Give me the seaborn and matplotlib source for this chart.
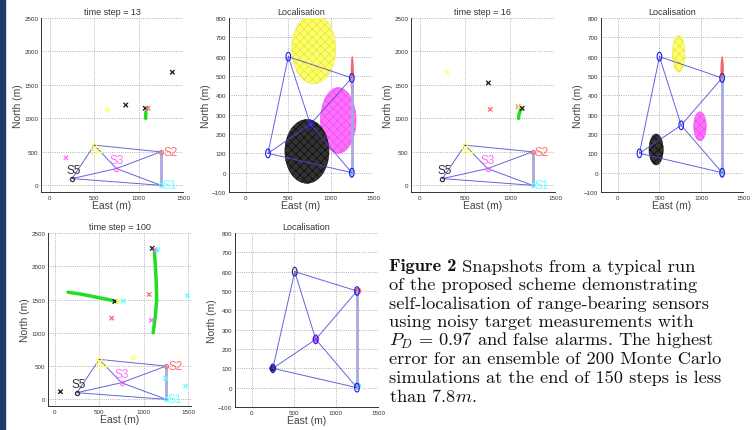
import matplotlib
matplotlib.use("Agg")
import matplotlib.pyplot as plt
from matplotlib.patches import Ellipse, Rectangle
import pandas as pd
import seaborn as sns

# Sensors
sensor_names = ["S1", "S2", "S3", "S4", "S5"]
sensor_east = [1250, 1250, 750, 500, 250]
sensor_north = [0, 500, 250, 600, 100]
label_east = [1270, 1275, 670, 450, 190]
label_north = [5, 505, 385, 515, 235]
sensor_colors = ["#66ffff", "#ff7070", "#ff70ff", "#ffff66", "#333333"]
cloud_hatch = ["#33dddd", "#ee5555", "#ee55ee", "#e6e655", "#111111"]
# links between sensors (index pairs)
edges = [(3, 1), (3, 4), (3, 2), (2, 0), (4, 2), (2, 1), (1, 0), (4, 0)]

# Time step panels: measurements (x marks) and target tracks
meas13_east = [1380, 855, 1075, 1105, 650, 180]
meas13_north = [1690, 1200, 1150, 1150, 1120, 410]
meas13_sensor = ["S5", "S5", "S5", "S2", "S4", "S3"]
track13 = [([1080, 1080, 1082], [1000, 1050, 1095])]

meas16_east = [300, 760, 780, 1090, 1105, 1135]
meas16_north = [1680, 1530, 1135, 1175, 1170, 1150]
meas16_sensor = ["S4", "S5", "S2", "S2", "S4", "S5"]
track16 = [([1095, 1098, 1105, 1115, 1125], [1000, 1040, 1080, 1120, 1150])]

meas100_east = [1095, 1130, 1160, 675, 712, 770, 1060, 640, 1085, 1490, 885, 1245, 1470, 65]
meas100_north = [2270, 2245, 2250, 1470, 1470, 1478, 1577, 1220, 1188, 1560, 625, 315, 200, 115]
meas100_sensor = ["S5", "S3", "S1", "S5", "S4", "S1", "S2", "S2", "S3", "S1", "S4", "S1", "S1", "S5"]
track100 = [([1118, 1130, 1140, 1145, 1130, 1105], [2250, 2000, 1750, 1500, 1250, 1000]),
            ([150, 300, 450, 600, 700], [1610, 1580, 1540, 1500, 1470])]

# Localisation panels: estimated sensor positions and particle cloud extents (S1..S5)
est13_east = [1250, 1250, 760, 500, 260]
est13_north = [0, 490, 250, 600, 100]
cloud13_east = [1250, 1255, 1090, 800, 720]
cloud13_north = [0, 490, 270, 640, 110]
cloud13_w = [30, 30, 420, 520, 520]
cloud13_h = [50, 220, 340, 360, 330]

est16_east = [1250, 1250, 760, 500, 260]
est16_north = [0, 490, 245, 600, 100]
cloud16_east = [1250, 1250, 985, 730, 460]
cloud16_north = [0, 535, 240, 615, 120]
cloud16_w = [30, 30, 150, 150, 170]
cloud16_h = [50, 130, 150, 190, 160]

est100_east = [1250, 1250, 760, 510, 250]
est100_north = [0, 500, 250, 600, 100]
cloud100_east = [1255, 1260, 760, 515, 250]
cloud100_north = [10, 500, 250, 595, 100]
cloud100_w = [75, 75, 75, 75, 75]
cloud100_h = [32, 32, 32, 32, 32]

caption_head = "Figure 2"
caption_lines = [
    " Snapshots from a typical run",
    "of the proposed scheme demonstrating",
    "self-localisation of range-bearing sensors",
    "using noisy target measurements with",
    r"$P_D\,=\,0.97$ and false alarms. The highest",
    "error for an ensemble of 200 Monte Carlo",
    "simulations at the end of 150 steps is less",
    r"than $7.8m$.",
]

sns.set_theme(style="white")
plt.rcParams["font.family"] = ["Liberation Sans", "DejaVu Sans"]
plt.rcParams["mathtext.fontset"] = "cm"
plt.rcParams["hatch.linewidth"] = 0.6

palette = dict(zip(sensor_names, sensor_colors))
W, H = 756, 431
fig = plt.figure(figsize=(W / 100, H / 100), dpi=100)
fig.patches.append(Rectangle((0, 0), 5 / W, 1, transform=fig.transFigure,
                             color="#203c66", zorder=0))


def make_ax(x0, y0, x1, y1):
    return fig.add_axes([x0 / W, 1 - y1 / H, (x1 - x0) / W, (y1 - y0) / H])


def style(ax, title, xlim, ylim, yticks):
    ax.set_xlim(*xlim)
    ax.set_ylim(*ylim)
    ax.set_xticks([0, 500, 1000, 1500])
    ax.set_yticks(yticks)
    ax.grid(True, linestyle=":", color="#999999", linewidth=0.6)
    ax.set_axisbelow(True)
    for s in ["top", "right"]:
        ax.spines[s].set_visible(False)
    for s in ["left", "bottom"]:
        ax.spines[s].set_color("#333333")
        ax.spines[s].set_linewidth(0.7)
    ax.tick_params(labelsize=4.5, length=2, width=0.5, direction="in", pad=2,
                   colors="#333333")
    ax.set_title(title, fontsize=6.5, pad=3, color="#333333")
    ax.set_xlabel("East (m)", fontsize=7.5, labelpad=0, color="#444444")
    ax.set_ylabel("North (m)", fontsize=7.5, labelpad=1, color="#444444")


def draw_links(ax, east, north):
    for a, b in edges:
        if (a, b) == (1, 0):
            ax.plot([east[a], east[b]], [north[a], north[b]], color="#a8a8e0", lw=2, zorder=3)
        else:
            ax.plot([east[a], east[b]], [north[a], north[b]], color="#4a4ad8", lw=0.7,
                    alpha=0.85, zorder=3)


def step_panel(ax, title, m_east, m_north, m_sensor, tracks, xlim):
    draw_links(ax, sensor_east, sensor_north)
    for te, tn in tracks:
        sns.lineplot(x=te, y=tn, ax=ax, sort=False, estimator=None, color="#22dd22",
                     lw=2.5, zorder=3)
    df = pd.DataFrame({"east": m_east, "north": m_north, "sensor": m_sensor})
    pal = dict(palette)
    pal["S5"] = "#222222"
    sns.scatterplot(data=df, x="east", y="north", hue="sensor", palette=pal, marker="x",
                    s=10, linewidth=1.0, ax=ax, legend=False, zorder=4)
    for i, name in enumerate(sensor_names):
        ax.plot(sensor_east[i], sensor_north[i], "o", mfc="none", mec=sensor_colors[i],
                ms=3, mew=0.9, zorder=5)
        ax.text(label_east[i], label_north[i], name, color=sensor_colors[i], fontsize=8.5,
                va="center", ha="left", zorder=6)
    style(ax, title, xlim, (-100, 2500), [0, 500, 1000, 1500, 2000, 2500])


def loc_panel(ax, est_east, est_north, c_east, c_north, c_w, c_h):
    for i in range(5):
        ax.add_patch(Ellipse((c_east[i], c_north[i]), c_w[i], c_h[i],
                             facecolor=sensor_colors[i], edgecolor=cloud_hatch[i],
                             hatch="xxxx", lw=0.4, zorder=2))
    draw_links(ax, est_east, est_north)
    for i in range(5):
        ax.add_patch(Ellipse((est_east[i], est_north[i]), 55, 45, facecolor="none",
                             edgecolor="#1a1aee", lw=0.8, zorder=4))
    style(ax, "Localisation", (-200, 1500), (-100, 800), list(range(-100, 801, 100)))


ax1 = make_ax(41, 19, 183, 193)
step_panel(ax1, "time step = 13", meas13_east, meas13_north, meas13_sensor, track13, (-100, 1500))
ax2 = make_ax(229, 19, 373, 193)
loc_panel(ax2, est13_east, est13_north, cloud13_east, cloud13_north, cloud13_w, cloud13_h)
ax3 = make_ax(411, 19, 555, 193)
step_panel(ax3, "time step = 16", meas16_east, meas16_north, meas16_sensor, track16, (-100, 1500))
ax4 = make_ax(601, 19, 743, 193)
loc_panel(ax4, est16_east, est16_north, cloud16_east, cloud16_north, cloud16_w, cloud16_h)
ax5 = make_ax(48, 234, 191, 407)
step_panel(ax5, "time step = 100", meas100_east, meas100_north, meas100_sensor, track100, (-75, 1530))
ax6 = make_ax(235, 234, 378, 408)
loc_panel(ax6, est100_east, est100_north, cloud100_east, cloud100_north, cloud100_w, cloud100_h)

# caption, bold head followed by regular text
cap_x, cap_y0, cap_dy, cap_fs = 389, 267, 18.5, 13.2
head = fig.text(cap_x / W, 1 - cap_y0 / H, caption_head, fontsize=cap_fs, family="cmb10",
                va="center", ha="left", color="#111111")
fig.canvas.draw()
head_w = head.get_window_extent().width
for k, line in enumerate(caption_lines):
    x = cap_x + (head_w if k == 0 else 0)
    fig.text(x / W, 1 - (cap_y0 + cap_dy * k) / H, line, fontsize=cap_fs, family="cmr10",
             va="center", ha="left", color="#111111")

fig.savefig("out.png", dpi=100)
